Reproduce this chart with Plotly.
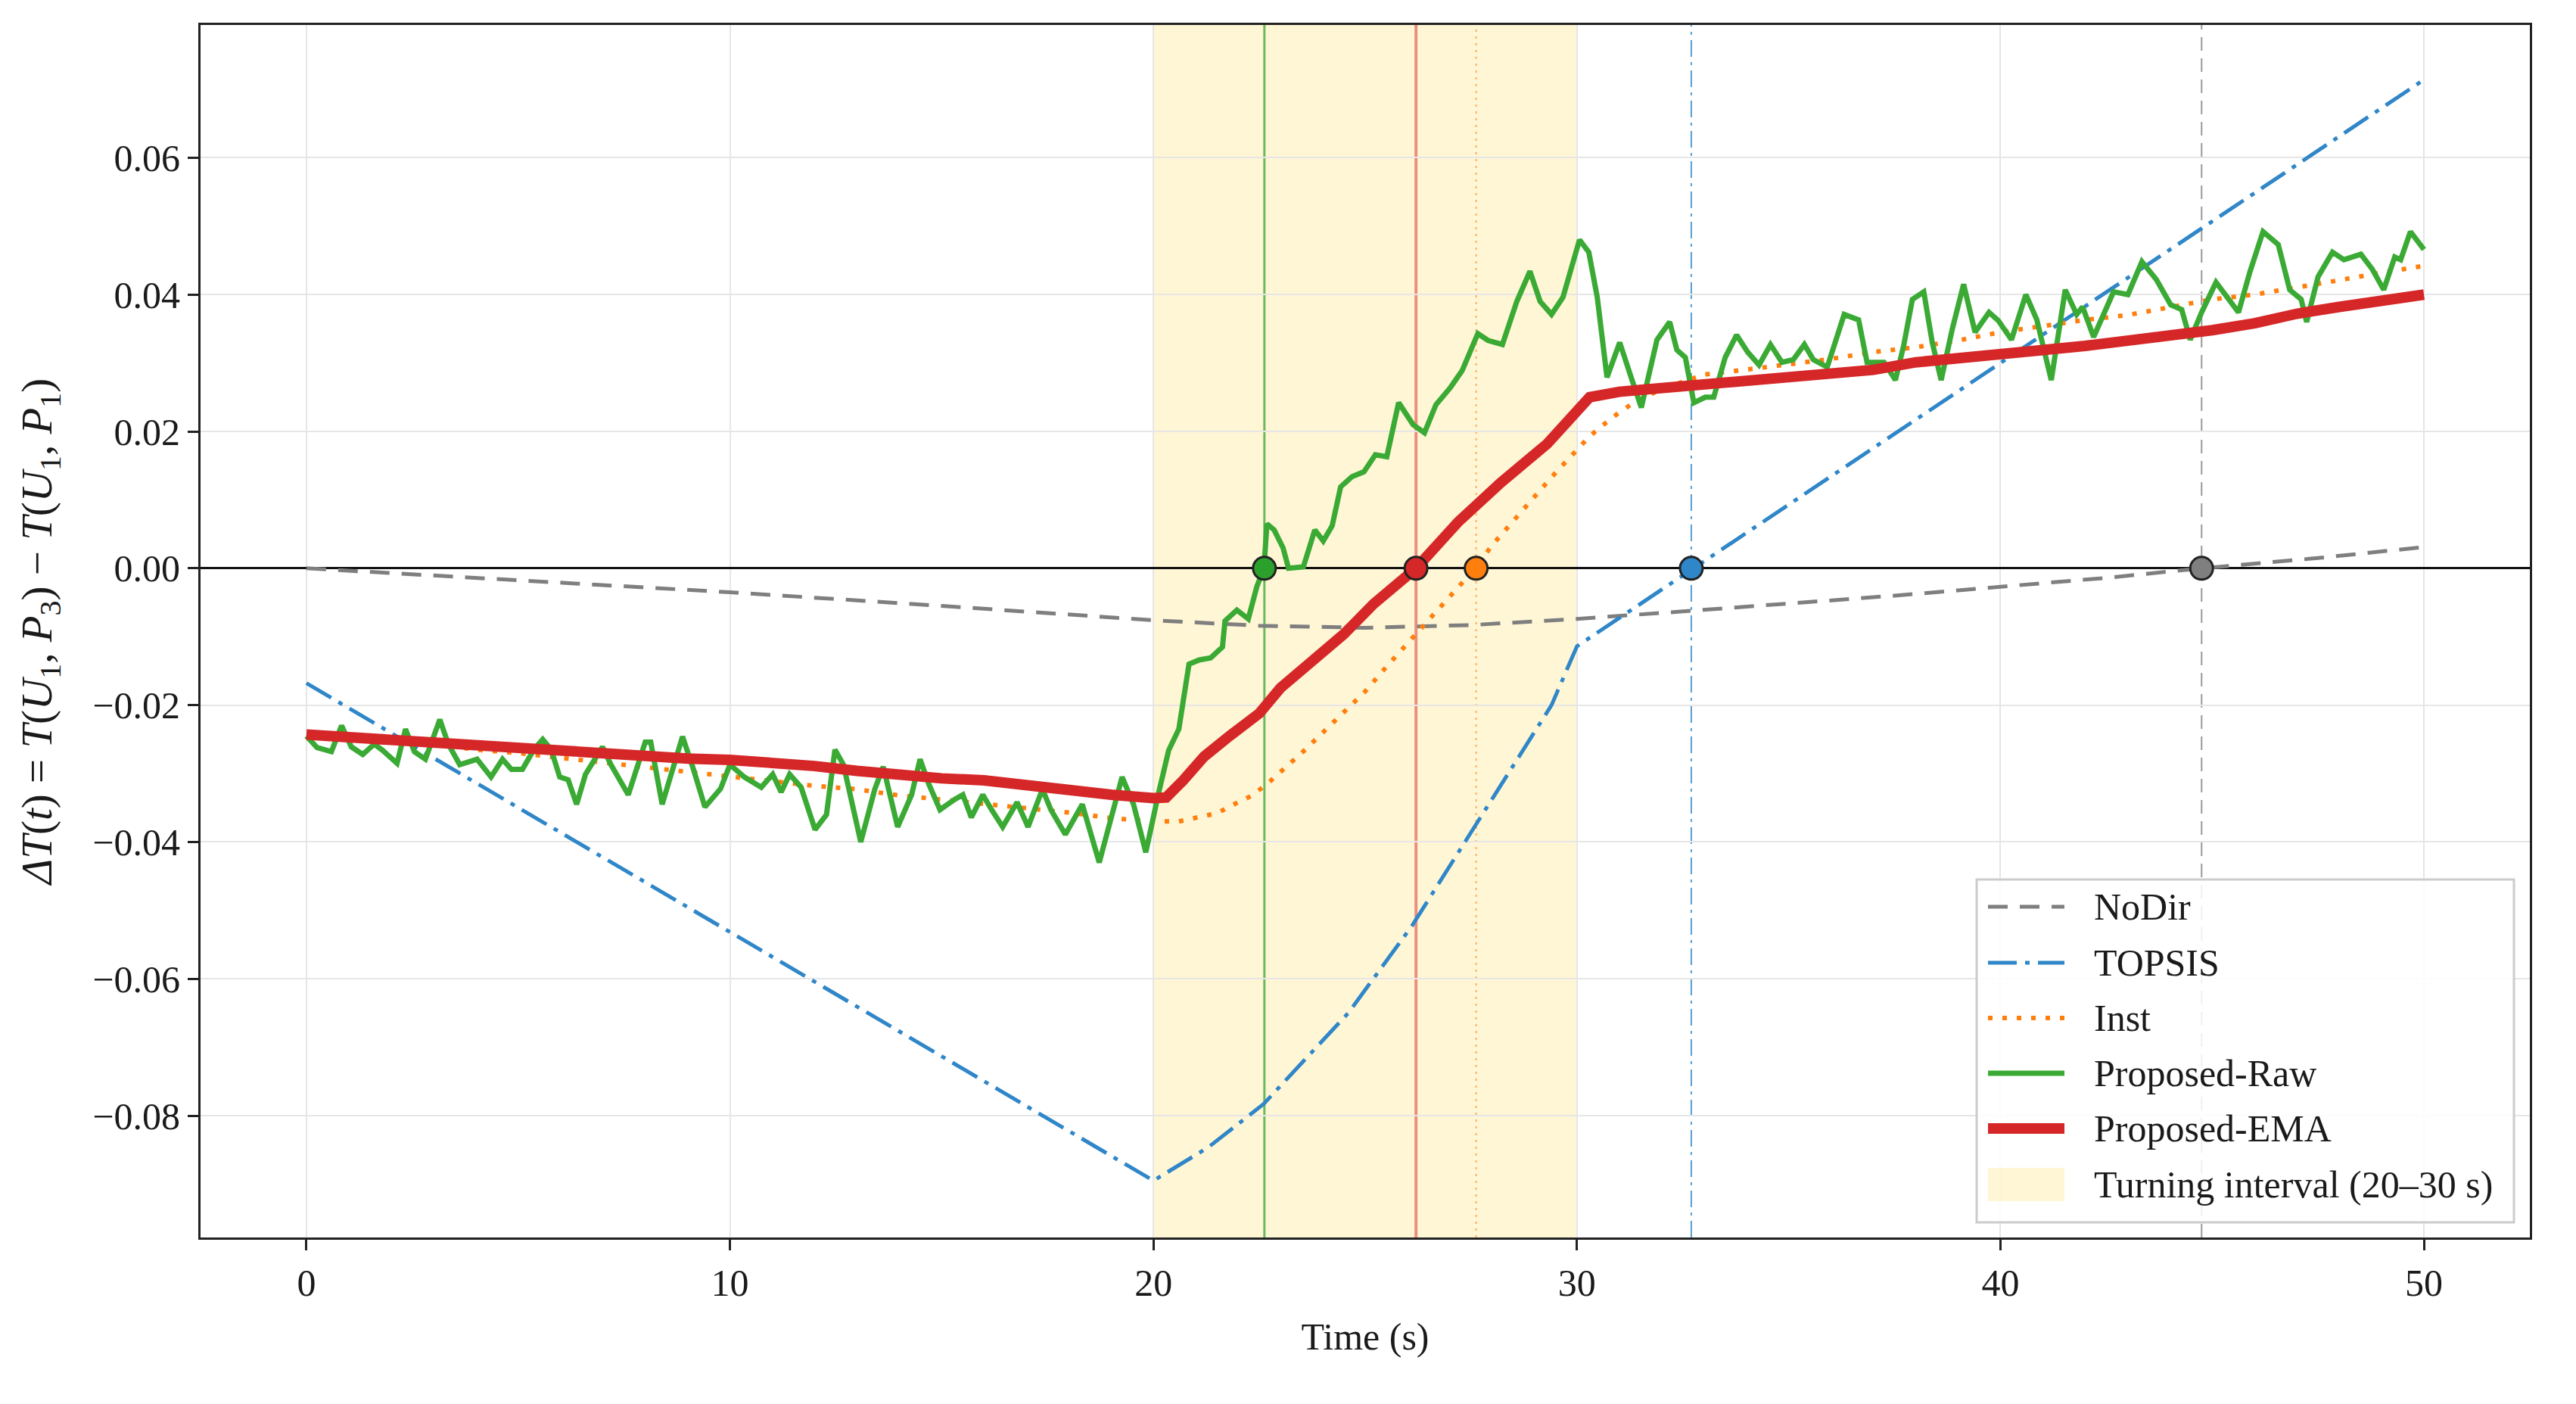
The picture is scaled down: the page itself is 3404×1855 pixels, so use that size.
import plotly.graph_objects as go

# ---------------- data ----------------
nodir_t = [0, 5, 10, 15, 20, 22.5, 25, 27.5, 30, 32.5, 35, 37.5, 40, 42.5, 44.75, 47.5, 50]
nodir_v = [0.0, -0.0018, -0.0035, -0.0055, -0.0076, -0.0084, -0.0087, -0.0083, -0.0074,
           -0.0063, -0.0052, -0.0040, -0.0027, -0.0014, 0.0, 0.0015, 0.0031]

topsis_t = [0, 20, 21.3, 22.6, 24.6, 26.1, 27.6, 29.4, 30, 35, 40, 45, 50]
topsis_v = [-0.0168, -0.0895, -0.0846, -0.0783, -0.0650, -0.0523, -0.0376, -0.0200, -0.0114,
            0.0093, 0.0300, 0.0507, 0.0714]

inst_t = [0, 1, 2, 3, 4, 5, 6, 7, 8, 9, 10, 11, 12, 13, 14, 15, 16, 17, 18, 19, 20, 20.6, 21.1,
          21.5, 21.9, 22.3, 22.65, 23, 23.5, 24, 24.5, 25, 25.5, 26, 26.5, 27, 27.6, 28, 28.5, 29,
          29.5, 30, 30.3, 30.65, 31, 31.4, 32, 33, 34, 35, 36, 37, 38, 39, 40, 41, 42, 43, 44, 45,
          46, 47, 48, 49, 50]
inst_v = [-0.0245, -0.0250, -0.0253, -0.0257, -0.0265, -0.0270, -0.0277, -0.0284, -0.0290, -0.0297,
          -0.0305, -0.0312, -0.0318, -0.0323, -0.0332, -0.0338, -0.0344, -0.0350, -0.0357, -0.0365,
          -0.0370, -0.0370, -0.0364, -0.0358, -0.0345, -0.0333, -0.0317, -0.0298, -0.0270, -0.0240,
          -0.0210, -0.0180, -0.0144, -0.0110, -0.0076, -0.0040, 0.0, 0.0034, 0.0070, 0.0106,
          0.0140, 0.0173, 0.0193, 0.0211, 0.0228, 0.0244, 0.0262, 0.0283, 0.0290, 0.0298, 0.0306,
          0.0316, 0.0323, 0.0333, 0.0345, 0.0354, 0.0363, 0.0370, 0.0381, 0.0393, 0.0400, 0.0410,
          0.0421, 0.0432, 0.0442]

raw_t = [0, 0.25, 0.59, 0.83, 1.06, 1.33, 1.60, 1.80, 2.14, 2.34, 2.55, 2.81, 3.15, 3.35, 3.62,
         4.03, 4.36, 4.63, 4.84, 5.10, 5.37, 5.58, 5.78, 5.98, 6.18, 6.38, 6.59, 6.99, 7.19, 7.60,
         8.00, 8.13, 8.40, 8.88, 9.14, 9.41, 9.78, 10.00, 10.34, 10.74, 11.01, 11.21, 11.41, 11.68,
         12.01, 12.28, 12.48, 12.68, 13.09, 13.42, 13.62, 13.96, 14.29, 14.49, 14.70, 14.96, 15.30,
         15.50, 15.70, 15.97, 16.18, 16.44, 16.78, 17.04, 17.38, 17.58, 17.92, 18.32, 18.72, 18.99,
         19.26, 19.53, 19.82, 20.12, 20.36, 20.60, 20.84, 21.08, 21.35, 21.63, 21.69, 21.97, 22.24,
         22.44, 22.61, 22.68, 22.85, 23.06, 23.19, 23.54, 23.81, 24.01, 24.22, 24.42, 24.69, 24.97,
         25.24, 25.51, 25.79, 26.13, 26.40, 26.67, 27.01, 27.29, 27.66, 27.90, 28.24, 28.58, 28.89,
         29.13, 29.40, 29.67, 30.06, 30.28, 30.48, 30.71, 31.01, 31.28, 31.52, 31.89, 32.19, 32.36,
         32.56, 32.76, 33.03, 33.23, 33.50, 33.77, 34.03, 34.30, 34.57, 34.84, 35.11, 35.37, 35.58,
         35.91, 36.31, 36.65, 36.85, 37.25, 37.52, 37.72, 37.92, 38.19, 38.39, 38.60, 38.86, 39.13,
         39.40, 39.73, 39.95, 40.26, 40.60, 40.86, 41.20, 41.53, 41.80, 41.94, 42.20, 42.67, 43.01,
         43.34, 43.68, 44.02, 44.28, 44.48, 44.75, 45.09, 45.36, 45.62, 45.89, 46.20, 46.56, 46.83,
         47.10, 47.23, 47.50, 47.84, 48.11, 48.51, 48.78, 49.05, 49.31, 49.45, 49.68, 50.0]
raw_v = [-0.0245, -0.0262, -0.0268, -0.0230, -0.0261, -0.0272, -0.0257, -0.0266, -0.0285, -0.0235,
         -0.0268, -0.0279, -0.0221, -0.0257, -0.0287, -0.0279, -0.0305, -0.0279, -0.0294, -0.0294,
         -0.0265, -0.0250, -0.0265, -0.0305, -0.0309, -0.0345, -0.0301, -0.0261, -0.0287, -0.0331,
         -0.0254, -0.0254, -0.0345, -0.0246, -0.0294, -0.0349, -0.0322, -0.0287, -0.0305, -0.0320,
         -0.0301, -0.0327, -0.0301, -0.0320, -0.0382, -0.0360, -0.0265, -0.0287, -0.0400, -0.0323,
         -0.0290, -0.0378, -0.0331, -0.0279, -0.0316, -0.0353, -0.0338, -0.0331, -0.0364, -0.0331,
         -0.0353, -0.0378, -0.0342, -0.0378, -0.0323, -0.0353, -0.0389, -0.0345, -0.0430, -0.0367,
         -0.0305, -0.0345, -0.0415, -0.0329, -0.0266, -0.0235, -0.0140, -0.0134, -0.0131, -0.0115,
         -0.0077, -0.0061, -0.0074, -0.0027, 0.0, 0.0065, 0.0056, 0.0030, 0.0, 0.0002,
         0.0056, 0.0040, 0.0062, 0.0119, 0.0134, 0.0141, 0.0166, 0.0163, 0.0242, 0.0210,
         0.0198, 0.0239, 0.0264, 0.0289, 0.0343, 0.0333, 0.0327, 0.0390, 0.0434, 0.0390,
         0.0371, 0.0396, 0.0480, 0.0462, 0.0396, 0.0279, 0.0330, 0.0279, 0.0235, 0.0334,
         0.0360, 0.0319, 0.0308, 0.0242, 0.0250, 0.0250, 0.0308, 0.0341, 0.0316, 0.0297,
         0.0327, 0.0301, 0.0305, 0.0327, 0.0305, 0.0294, 0.0371, 0.0363, 0.0301, 0.0301,
         0.0275, 0.0327, 0.0393, 0.0404, 0.0330, 0.0275, 0.0349, 0.0415, 0.0345, 0.0374,
         0.0362, 0.0334, 0.0400, 0.0363, 0.0275, 0.0407, 0.0371, 0.0382, 0.0338, 0.0404,
         0.0400, 0.0448, 0.0422, 0.0385, 0.0378, 0.0334, 0.0374, 0.0418, 0.0396, 0.0374,
         0.0433, 0.0492, 0.0473, 0.0407, 0.0393, 0.0360, 0.0426, 0.0462, 0.0451, 0.0459,
         0.0437, 0.0407, 0.0455, 0.0451, 0.0492, 0.0466]

ema_t = [0, 1, 2, 3, 4, 5, 6, 7, 8, 9, 10, 11, 12, 13, 14, 15, 16, 17, 18, 19, 20, 20.3, 20.7,
         21.2, 21.8, 22.5, 23, 23.8, 24.5, 25.2, 26.2, 27.2, 28.2, 29.3, 29.9, 30.3, 31, 32, 33,
         34, 35, 36, 37, 38, 39, 40, 41, 42, 43, 44, 45, 46, 47, 48, 49, 50]
ema_v = [-0.0243, -0.0247, -0.0252, -0.0256, -0.0261, -0.0265, -0.0268, -0.0272, -0.0276, -0.0278,
         -0.0280, -0.0283, -0.0289, -0.0296, -0.0302, -0.0307, -0.0310, -0.0318, -0.0325, -0.0331,
         -0.0336, -0.0335, -0.0310, -0.0275, -0.0245, -0.0212, -0.0175, -0.0135, -0.0096, -0.0052,
         0.0, 0.0068, 0.0125, 0.0182, 0.0220, 0.0250, 0.0258, 0.0263, 0.0270, 0.0274, 0.0280,
         0.0284, 0.0290, 0.0301, 0.0306, 0.0313, 0.0319, 0.0325, 0.0332, 0.0340, 0.0348, 0.0358,
         0.0372, 0.0382, 0.0390, 0.0400]

# zero-crossing times (s)
cross_names = ["NoDir", "TOPSIS", "Inst", "Proposed-Raw", "Proposed-EMA"]
cross_t = [44.75, 32.7, 27.62, 22.62, 26.2]

turn_start, turn_end = 20, 30
turn_label = "Turning interval (20–30 s)"
x_ticks = [0, 10, 20, 30, 40, 50]
y_ticks = [-0.08, -0.06, -0.04, -0.02, 0.00, 0.02, 0.04, 0.06]

# ---------------- styles ----------------
C_GRAY, C_BLUE, C_ORANGE, C_GREEN, C_RED = "#7f7f7f", "#2f86c8", "#ff7f0e", "#3aaa35", "#d62728"
FONT = "Liberation Serif"
TURN_FILL = "rgba(255,222,105,0.28)"

series = [
    dict(name="NoDir", t=nodir_t, v=nodir_v, line=dict(color=C_GRAY, width=5, dash="26px,16px")),
    dict(name="TOPSIS", t=topsis_t, v=topsis_v, line=dict(color=C_BLUE, width=5, dash="38px,11px,6px,11px")),
    dict(name="Inst", t=inst_t, v=inst_v, line=dict(color=C_ORANGE, width=6, dash="6px,13px")),
    dict(name="Proposed-Raw", t=raw_t, v=raw_v, line=dict(color=C_GREEN, width=7)),
    dict(name="Proposed-EMA", t=ema_t, v=ema_v, line=dict(color=C_RED, width=14)),
]

fig = go.Figure()
for s in series:
    fig.add_trace(go.Scatter(x=s["t"], y=s["v"], mode="lines", name=s["name"],
                             line=s["line"], showlegend=False))

# crossing markers
marker_cols = [C_GRAY, C_BLUE, C_ORANGE, "#2ca02c", C_RED]
fig.add_trace(go.Scatter(x=cross_t, y=[0] * len(cross_t), mode="markers", showlegend=False,
                         marker=dict(size=30, color=marker_cols, line=dict(color="#222222", width=3))))

shapes = []
annotations = []
# turning interval
shapes.append(dict(type="rect", xref="x", yref="paper", x0=turn_start, x1=turn_end, y0=0, y1=1,
                   fillcolor=TURN_FILL, line=dict(width=0), layer="between"))
# vertical crossing lines
vstyles = [("rgba(127,127,127,0.8)", "18px,10px", 2),
           ("rgba(47,134,200,0.8)", "22px,7px,4px,7px", 2),
           ("rgba(255,127,14,0.6)", "3px,6px", 2),
           ("rgba(44,160,44,0.7)", "solid", 3),
           ("rgba(214,39,40,0.5)", "solid", 4)]
for tc, (col, dsh, w) in zip(cross_t, vstyles):
    shapes.append(dict(type="line", xref="x", yref="paper", x0=tc, x1=tc, y0=0, y1=1,
                       line=dict(color=col, width=w, dash=dsh), layer="between"))

# ---------------- hand-built legend (paper coordinates) ----------------
W, H, ML, MR, MT, MB = 3404, 1855, 265, 61, 33, 220
PW, PH = W - ML - MR, H - MT - MB
px = lambda X: (X - ML) / PW
py = lambda Y: (H - MB - Y) / PH

shapes.append(dict(type="rect", xref="paper", yref="paper", x0=px(2612), x1=px(3322),
                   y0=py(1615), y1=py(1162), fillcolor="rgba(255,255,255,0.85)",
                   line=dict(color="#cccccc", width=3), layer="above"))
row_y = [1198, 1272, 1345, 1418, 1491, 1565]
sx0, sx1, tx = px(2627), px(2728), px(2765)
for s, ry in zip(series, row_y[:5]):
    shapes.append(dict(type="line", xref="paper", yref="paper", x0=sx0, x1=sx1,
                       y0=py(ry), y1=py(ry), line=s["line"], layer="above"))
    annotations.append(dict(xref="paper", yref="paper", x=tx, y=py(ry), text=s["name"],
                            showarrow=False, xanchor="left", yanchor="middle",
                            font=dict(family=FONT, size=50, color="#1a1a1a")))
shapes.append(dict(type="rect", xref="paper", yref="paper", x0=sx0, x1=sx1,
                   y0=py(row_y[5] + 22), y1=py(row_y[5] - 22), fillcolor=TURN_FILL,
                   line=dict(width=0), layer="above"))
annotations.append(dict(xref="paper", yref="paper", x=tx, y=py(row_y[5]), text=turn_label,
                        showarrow=False, xanchor="left", yanchor="middle",
                        font=dict(family=FONT, size=50, color="#1a1a1a")))

fig.update_layout(
    width=W, height=H,
    margin=dict(l=ML, r=MR, t=MT, b=MB),
    paper_bgcolor="white", plot_bgcolor="white",
    font=dict(family=FONT, size=50, color="#1a1a1a"),
    shapes=shapes, annotations=annotations,
    showlegend=False,
    xaxis=dict(range=[-2.5, 52.5], tickvals=x_ticks, ticktext=[str(v) for v in x_ticks],
               showgrid=True, gridcolor="#e6e6e6", gridwidth=2,
               showline=True, linecolor="#222222", linewidth=3, mirror=True,
               ticks="outside", ticklen=14, tickwidth=3, tickcolor="#222222",
               zeroline=False,
               title=dict(text="Time (s)", standoff=26, font=dict(family=FONT, size=50))),
    yaxis=dict(range=[-0.0978, 0.0794], tickvals=y_ticks, tickformat=".2f",
               showgrid=True, gridcolor="#e6e6e6", gridwidth=2,
               showline=True, linecolor="#222222", linewidth=3, mirror=True,
               ticks="outside", ticklen=14, tickwidth=3, tickcolor="#222222",
               zeroline=True, zerolinecolor="#111111", zerolinewidth=3,
               title=dict(text="<i>ΔT</i>(<i>t</i>) = <i>T</i>(<i>U</i><sub>1</sub>, <i>P</i><sub>3</sub>)"
                               " − <i>T</i>(<i>U</i><sub>1</sub>, <i>P</i><sub>1</sub>)",
                          standoff=36, font=dict(family=FONT, size=57))),
)

fig.write_html("out.html")
